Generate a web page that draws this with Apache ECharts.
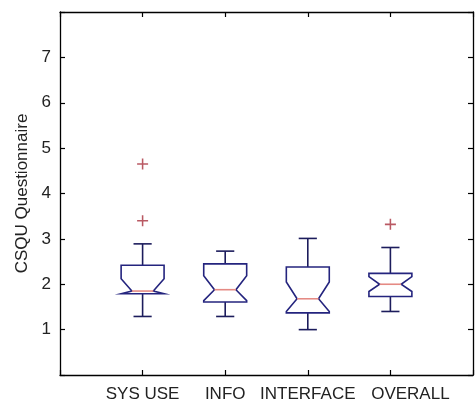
<!DOCTYPE html>
<html>
<head>
<meta charset="utf-8">
<script src="https://cdn.jsdelivr.net/npm/echarts@6/dist/echarts.min.js"></script>
<style>
html,body{margin:0;padding:0;background:#fff;}
#chart{width:476px;height:403px;}
</style>
</head>
<body>
<div id="chart"></div>
<script>
// ---- data ----
const categories  = ['SYS USE', 'INFO', 'INTERFACE', 'OVERALL'];
const whiskerLow  = [1.29, 1.29, 1.00, 1.40];
const q1          = [1.79, 1.61, 1.37, 1.73];
const notchLow    = [1.79, 1.64, 1.40, 1.84];
const median      = [1.85, 1.88, 1.68, 2.00];
const notchHigh   = [2.12, 2.19, 2.05, 2.17];
const q3          = [2.42, 2.45, 2.38, 2.24];
const whiskerHigh = [2.89, 2.73, 3.01, 2.81];
const outliers    = [[1, 4.65], [1, 3.40], [4, 3.32]];
const yTicks      = [1, 2, 3, 4, 5, 6, 7];

const boxData = categories.map((c, i) => [i + 1, whiskerLow[i], q1[i], notchLow[i], median[i], notchHigh[i], q3[i], whiskerHigh[i]]);

const NAVY = '#24247e';
const WHISK = '#1c1c5c';
const FONT = 'Liberation Sans';

const chart = echarts.init(document.getElementById('chart'), null, {renderer: 'canvas'});

function renderBox(params, api) {
  const x = api.value(0);
  const wl = api.value(1), lo = api.value(2), nlo = api.value(3), med = api.value(4),
        nhi = api.value(5), hi = api.value(6), wh = api.value(7);
  const bw = 0.26, nw = 0.13, cw = 0.11;
  const P = (dx, y) => api.coord([x + dx, y]);
  const pts = [P(-bw, lo), P(-bw, nlo), P(-nw, med), P(-bw, nhi), P(-bw, hi),
               P(bw, hi), P(bw, nhi), P(nw, med), P(bw, nlo), P(bw, lo)];
  const line = (a, b, color) => ({
    type: 'line',
    shape: {x1: a[0], y1: a[1], x2: b[0], y2: b[1]},
    style: {stroke: color, lineWidth: 1.6}
  });
  return {
    type: 'group',
    children: [
      line(P(0, hi), P(0, wh), WHISK),
      line(P(0, lo), P(0, wl), WHISK),
      line(P(-cw, wh), P(cw, wh), WHISK),
      line(P(-cw, wl), P(cw, wl), WHISK),
      {type: 'polygon', shape: {points: pts}, style: {fill: 'none', stroke: NAVY, lineWidth: 1.6}},
      line(P(-nw, med), P(nw, med), '#e58a84')
    ]
  };
}

const axisCommon = {
  axisLine: {show: true, onZero: false, lineStyle: {color: '#000', width: 1.3}},
  axisTick: {show: true, inside: true, length: 5, lineStyle: {color: '#000', width: 1.2}},
  splitLine: {show: false}
};

chart.setOption({
  animation: false,
  backgroundColor: '#fff',
  grid: {left: 60, top: 12, right: -7, bottom: 26},
  xAxis: [
    Object.assign({
      type: 'value', min: 0, max: 5, interval: 1, position: 'bottom',
      axisLabel: {
        show: true, margin: 11, color: '#222', fontFamily: FONT, fontSize: 17,
        formatter: v => v === 4 ? '{o|' + categories[3] + '}' : (categories[v - 1] || ''),
        rich: {o: {fontFamily: FONT, fontSize: 17, color: '#222', padding: [0, 0, 0, 40]}}
      }
    }, axisCommon),
    Object.assign({
      type: 'value', min: 0, max: 5, interval: 1, position: 'top',
      axisLabel: {show: false}
    }, axisCommon)
  ],
  yAxis: [
    Object.assign({
      type: 'value', min: 0, max: 8, interval: 1, position: 'left',
      name: 'CSQU Questionnaire', nameLocation: 'middle', nameGap: 27,
      nameTextStyle: {fontFamily: FONT, fontSize: 17, color: '#222'},
      axisLabel: {
        show: true, margin: 9, color: '#222', fontFamily: FONT, fontSize: 17,
        formatter: v => yTicks.indexOf(v) >= 0 ? String(v) : ''
      }
    }, axisCommon),
    Object.assign({
      type: 'value', min: 0, max: 8, interval: 1, position: 'right',
      axisLabel: {show: false}
    }, axisCommon)
  ],
  series: [
    {
      type: 'custom',
      xAxisIndex: 0, yAxisIndex: 0,
      renderItem: renderBox,
      encode: {x: 0, y: [1, 7]},
      data: boxData,
      z: 3
    },
    {
      type: 'scatter',
      xAxisIndex: 0, yAxisIndex: 0,
      symbol: 'path://M-1,-0.14H1V0.14H-1Z M-0.14,-1H0.14V1H-0.14Z',
      symbolSize: 11,
      itemStyle: {color: '#a8303c'},
      data: outliers,
      z: 4
    }
  ]
});
</script>
</body>
</html>
